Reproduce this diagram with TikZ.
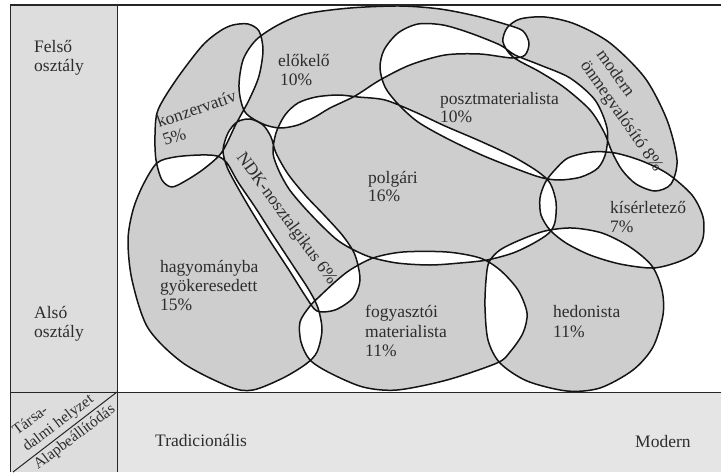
\documentclass[tikz,border=0pt]{standalone}
\usepackage{fontspec}
\setmainfont{Liberation Serif}
\definecolor{blobgray}{RGB}{206,206,206}
\definecolor{leftgray}{RGB}{221,221,221}
\definecolor{botgray}{RGB}{229,229,229}
\definecolor{inkc}{RGB}{45,45,45}
\begin{document}
\begin{tikzpicture}[x=1pt,y=-1pt,
  lbl/.style={anchor=base west, inner sep=0pt, text=inkc, font=\fontsize{17.5}{20}\selectfont},
  smlbl/.style={anchor=base west, inner sep=0pt, text=inkc, font=\fontsize{15.5}{18}\selectfont},
  frameline/.style={draw=black!85, line width=1pt},
  blob/.style={fill=blobgray, even odd rule, draw=black!92, line width=1.5pt, line join=round}]
\useasboundingbox (0,0) rectangle (721,472);
% table backgrounds
\fill[leftgray] (10,5) rectangle (117,472);
\fill[botgray] (117,392) rectangle (721,472);
% milieu shapes
\path[blob]
  % konzervativ
  plot[smooth cycle] coordinates {(233,25) (248,24) (259,31) (263,50) (259,76) (249,100) (236,124) (222,152) (205,168) (187,180) (172,187) (162,180) (156,160) (155,135) (158,110) (176,80) (202,46) (220,31)}
  % elokelo
  plot[smooth cycle] coordinates {(245,112) (239,88) (243,60) (256,40) (278,25) (305,14) (350,8) (400,6) (440,9) (476,16) (508,25) (523,31) (529,43) (525,55) (512,58) (480,54) (445,55) (410,65) (380,80) (355,96) (330,108) (315,117) (298,125) (280,128) (263,124)}
  % NDK
  plot[smooth cycle] coordinates {(237,122) (250,119) (263,125) (271,137) (276,153) (288,174) (305,195) (325,216) (343,236) (355,255) (360,280) (353,298) (335,310) (317,311) (306,297) (289,270) (270,241) (252,212) (238,188) (227,167) (223,150) (228,133)}
  % hagyomanyba
  plot[smooth cycle] coordinates {(157,163) (175,157) (200,155) (217,156) (227,163) (238,182) (255,207) (271,232) (292,264) (309,290) (318,308) (322,330) (317,352) (306,364) (283,378) (253,390) (230,387) (183,363) (148,328) (132,280) (128,240) (133,210) (143,185)}
  % polgari
  plot[smooth cycle] coordinates {(276,133) (285,115) (298,103) (316,97) (338,95) (358,97) (385,100) (415,112) (445,126) (480,141) (512,156) (537,171) (550,183) (556,202) (555,222) (549,233) (534,243) (513,253) (487,260) (460,263) (430,265) (397,263) (370,257) (350,248) (336,239) (320,224) (303,206) (289,189) (279,171) (273,153)}
  % posztmaterialista
  plot[smooth cycle] coordinates {(380,68) (384,50) (398,33) (418,24) (443,25) (470,33) (500,45) (515,55) (540,65) (570,78) (595,100) (607,128) (606,152) (598,168) (581,177) (560,180) (543,178) (522,171) (484,156) (448,139) (418,122) (398,104) (385,87)}
  % modern
  plot[smooth cycle] coordinates {(503,42) (507,28) (520,19) (545,17) (575,24) (610,43) (645,78) (667,120) (677,160) (671,184) (655,191) (636,184) (622,170) (612,152) (604,132) (590,110) (565,88) (540,72) (513,57)}
  % kiserletezo
  plot[smooth cycle] coordinates {(553,172) (568,158) (592,152) (615,153) (642,161) (668,174) (692,195) (703,217) (703,238) (695,253) (678,262) (653,268) (620,264) (590,255) (566,243) (550,230) (541,215) (540,198) (545,183)}
  % hedonista
  plot[smooth cycle] coordinates {(489,262) (500,250) (520,240) (545,231) (572,228) (602,233) (630,247) (652,266) (662,290) (663,315) (653,347) (633,370) (600,388) (567,391) (527,381) (500,363) (488,340) (485,307) (486,280)}
  % fogyasztoi
  plot[smooth cycle] coordinates {(310,306) (320,296) (335,282) (350,270) (373,258) (403,252) (447,252) (480,258) (500,270) (518,290) (527,313) (523,333) (510,352) (497,363) (447,380) (397,390) (363,387) (330,373) (310,360) (301,342) (300,322)};
% table lines
\draw[frameline, line width=1.8pt] (10,5) -- (721,5);
\draw[frameline] (10,5) -- (10,472);
\draw[frameline] (117,5) -- (117,472);
\draw[frameline] (10,392) -- (721,392);
\draw[frameline] (13,472) -- (117,392);
% row / column labels
\node[lbl] (felso1) at (34,52) {Felső};
\node[lbl] (felso2) at (34,71) {osztály};
\node[lbl] (also1) at (34,318) {Alsó};
\node[lbl] (also2) at (34,337) {osztály};
\node[lbl] (trad) at (155,446) {Tradicionális};
\node[lbl] (mod) at (635,447) {Modern};
\node[smlbl, rotate=37] (tars1) at (17,436) {Társa-};
\node[smlbl, rotate=37] (tars2) at (27,452) {dalmi helyzet};
\node[smlbl, rotate=37] (alap) at (38,470) {Alapbeállítódás};
% milieu labels
\node[lbl, rotate=19] (konz1) at (159,128) {konzervatív};
\node[lbl, rotate=19] (konz2) at (165,146) {5\%};
\node[lbl] (elo1) at (278,66) {előkelő};
\node[lbl] (elo2) at (280,85) {10\%};
\node[lbl] (poszt1) at (440,104) {posztmaterialista};
\node[lbl] (poszt2) at (440,122) {10\%};
\node[lbl, rotate=-55] (mod1) at (596,54) {modern};
\node[lbl, rotate=-55] (mod2) at (580,65) {önmegvalósító 8\%};
\node[lbl, rotate=-54] (ndk) at (236,157) {NDK-nosztalgikus 6\%};
\node[lbl] (polg1) at (368,183) {polgári};
\node[lbl] (polg2) at (368,201) {16\%};
\node[lbl] (kis1) at (610,213) {kísérletező};
\node[lbl] (kis2) at (610,232) {7\%};
\node[lbl] (hagy1) at (160,272) {hagyományba};
\node[lbl] (hagy2) at (160,291) {gyökeresedett};
\node[lbl] (hagy3) at (160,310) {15\%};
\node[lbl] (fogy1) at (365,317) {fogyasztói};
\node[lbl] (fogy2) at (365,337) {materialista};
\node[lbl] (fogy3) at (365,356) {11\%};
\node[lbl] (hed1) at (553,317) {hedonista};
\node[lbl] (hed2) at (553,337) {11\%};
\end{tikzpicture}
\end{document}
